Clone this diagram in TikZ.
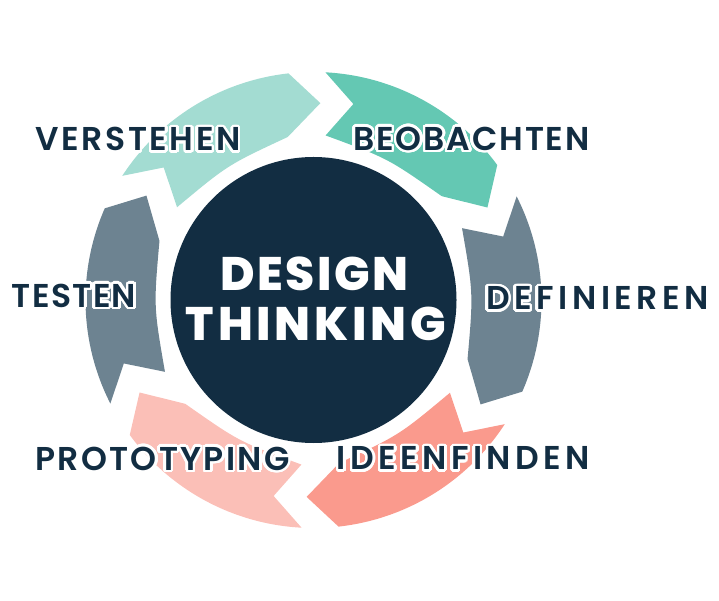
\documentclass[tikz,border=0pt]{standalone}
\usepackage{fontspec}
\setmainfont{Poppins}
\newfontfamily\lblfont{Poppins SemiBold}
\newfontfamily\ctrfont{Poppins ExtraBold}
\usepackage{contour}
\contourlength{2.5pt}
\contournumber{32}
\definecolor{navy}{HTML}{122D42}
\definecolor{tealA}{HTML}{A3DCD2}
\definecolor{tealB}{HTML}{64C8B3}
\definecolor{slate}{HTML}{6D8391}
\definecolor{salmon}{HTML}{FA9A8D}
\definecolor{pinkA}{HTML}{FBBFB7}
\newcommand{\dtseg}[2]{%
  \pgfmathsetmacro\dtA{#1-5}%
  \pgfmathsetmacro\dtB{#1-13.5}%
  \pgfmathsetmacro\dtC{#1-6.2}%
  \pgfmathsetmacro\dtD{#1-29.6}%
  \pgfmathsetmacro\dtE{#1-53}%
  \pgfmathsetmacro\dtF{#1-64}%
  \pgfmathsetmacro\dtG{#1-55.7}%
  \fill[#2] (\dtA:228) -- (\dtB:200) -- (\dtC:165)
    .. controls (\dtD:160) .. (\dtE:165) -- (\dtF:197) -- (\dtG:228)
    arc[start angle=\dtG, end angle=\dtA, radius=228] -- cycle;
}
\newcommand{\dtlbl}[2]{\addfontfeatures{LetterSpace=#1}\contour{white}{#2}}
\tikzset{
  lbl/.style={inner sep=0pt, text=navy, font=\lblfont\fontsize{33}{36}\selectfont},
  ctr/.style={inner sep=0pt, text=white, font=\ctrfont\fontsize{47}{50}\selectfont}
}
\begin{document}
\begin{tikzpicture}[x=1pt,y=1pt]
\useasboundingbox (0,0) rectangle (719,600);
\begin{scope}[shift={(313.5,300)}]
  \dtseg{92}{tealB}
  \dtseg{32}{slate}
  \dtseg{-28}{salmon}
  \dtseg{-88}{pinkA}
  \dtseg{-148}{slate}
  \dtseg{152}{tealA}
  \fill[navy] (0,0) circle[radius=143];
\end{scope}
\node[ctr] (design) at (314.5,326.5) {\addfontfeatures{LetterSpace=5}DESIGN};
\node[ctr] (thinking) at (316,276.5) {\addfontfeatures{LetterSpace=8}THINKING};
\node[lbl] (verstehen) at (138,459.5) {\dtlbl{8}{VERSTEHEN}};
\node[lbl] (beobachten) at (471.5,460) {\dtlbl{5.7}{BEOBACHTEN}};
\node[lbl] (testen) at (74,303) {\dtlbl{4.2}{TESTEN}};
\node[lbl] (definieren) at (597.5,300.5) {\dtlbl{13.8}{DEFINIEREN}};
\node[lbl] (prototyping) at (162.5,140) {\dtlbl{7}{PROTOTYPING}};
\node[lbl] (ideenfinden) at (463.5,140.5) {\dtlbl{13.5}{IDEENFINDEN}};
\end{tikzpicture}
\end{document}
